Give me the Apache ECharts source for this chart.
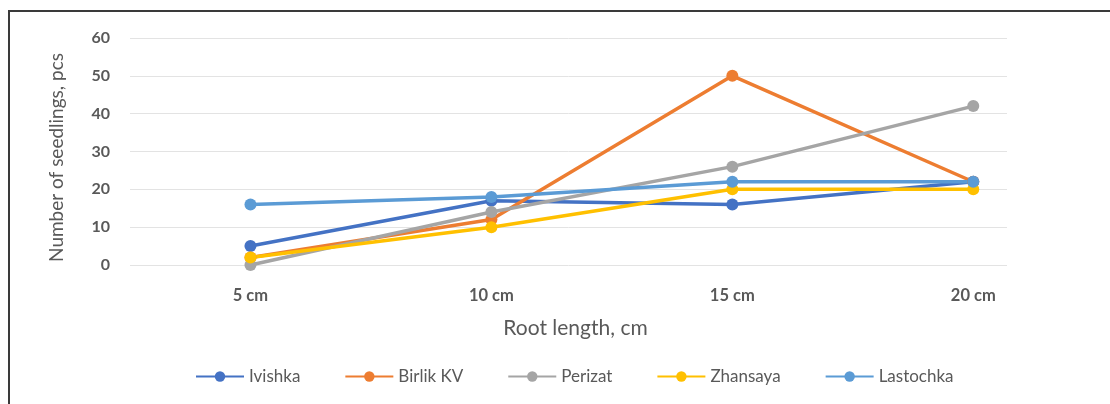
<!DOCTYPE html>
<html>
<head>
<meta charset="utf-8">
<script src="https://cdn.jsdelivr.net/npm/echarts@6/dist/echarts.min.js"></script>
<style>
  html, body { margin: 0; padding: 0; background: #fff; }
  #wrap { position: relative; width: 1110px; height: 404px; overflow: hidden; }
  #frame { position: absolute; left: 8px; top: 10px; right: -4px; bottom: -4px;
           border-left: 2px solid #3a3a3a; border-top: 2px solid #3a3a3a; }
  #chart { position: absolute; left: 0; top: 0; width: 1110px; height: 404px; }
</style>
</head>
<body>
<div id="wrap">
  <div id="frame"></div>
  <div id="chart"></div>
</div>
<script>
// Root length classes and seedling counts per variety
const categories = ['5 cm', '10 cm', '15 cm', '20 cm'];
const ivishka   = [5, 17, 16, 22];
const birlikKV  = [2, 12, 50, 22];
const perizat   = [0, 14, 26, 42];
const zhansaya  = [2, 10, 20, 20];
const lastochka = [16, 18, 22, 22];
const yTicks = [0, 10, 20, 30, 40, 50, 60];

const seriesDefs = [
  { name: 'Ivishka',   values: ivishka,   color: '#4472C4' },
  { name: 'Birlik KV', values: birlikKV,  color: '#ED7D31' },
  { name: 'Perizat',   values: perizat,   color: '#A5A5A5' },
  { name: 'Zhansaya',  values: zhansaya,  color: '#FFC000' },
  { name: 'Lastochka', values: lastochka, color: '#5B9BD5' }
];

const font = 'Lato, "Open Sans", sans-serif';
const chart = echarts.init(document.getElementById('chart'), null, { renderer: 'canvas' });

chart.setOption({
  animation: false,
  backgroundColor: 'transparent',
  textStyle: { fontFamily: font },
  grid: { left: 130, right: 103, top: 38, bottom: 139, containLabel: false },
  legend: {
    data: seriesDefs.map(s => s.name),
    bottom: 14,
    left: 190,
    itemWidth: 48,
    itemHeight: 13,
    itemGap: 44,
    textStyle: { fontFamily: font, fontSize: 17, color: '#595959' }
  },
  xAxis: {
    type: 'value',
    min: -0.5,
    max: 3.14,
    name: 'Root length, cm',
    nameLocation: 'middle',
    nameGap: 53,
    nameTextStyle: { fontFamily: font, fontSize: 21, color: '#595959', padding: [0, 0, 0, 14] },
    axisLine: { show: false },
    axisTick: { show: false },
    splitLine: { show: false },
    axisLabel: {
      customValues: categories.map((c, i) => i),
      formatter: v => categories[Math.round(v)] || '',
      margin: 22,
      fontFamily: font,
      fontSize: 16.5,
      fontWeight: 'bold',
      color: '#595959'
    }
  },
  yAxis: {
    type: 'value',
    min: yTicks[0],
    max: yTicks[yTicks.length - 1],
    interval: 10,
    name: 'Number of seedlings, pcs',
    nameLocation: 'middle',
    nameGap: 64,
    nameRotate: 90,
    nameTextStyle: { fontFamily: font, fontSize: 19, color: '#595959', padding: [0, 12, 0, 0] },
    axisLine: { show: false },
    axisTick: { show: false },
    axisLabel: { margin: 20, fontFamily: font, fontSize: 16, fontWeight: 'bold', color: '#595959' },
    splitLine: { lineStyle: { color: '#E3E3E3', width: 1 } }
  },
  series: seriesDefs.map(s => ({
    name: s.name,
    type: 'line',
    data: s.values.map((v, i) => [i, v]),
    symbol: 'circle',
    symbolSize: 12,
    showSymbol: true,
    lineStyle: { color: s.color, width: 3.5 },
    itemStyle: { color: s.color },
    emphasis: { disabled: true }
  }))
});
</script>
</body>
</html>
